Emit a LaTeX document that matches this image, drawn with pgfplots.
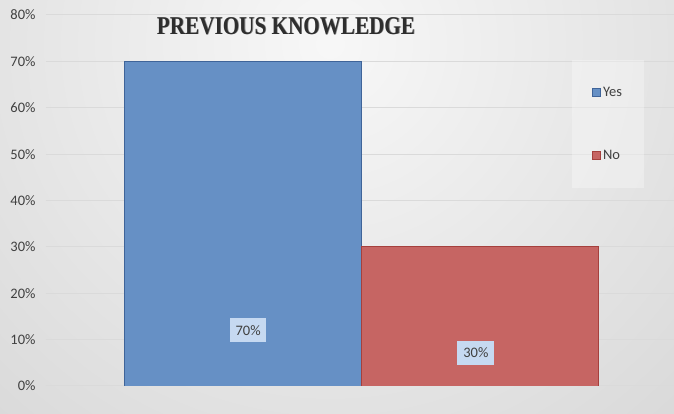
\documentclass[border=0pt]{standalone}
\usepackage{pgfplots}
\pgfplotsset{compat=1.18}
\usepackage{graphicx}
\usepackage{fontspec}
\setmainfont{Carlito}
\newfontfamily\titlefont[FakeStretch=0.83]{Liberation Serif}

\definecolor{barblue}{HTML}{6690C5}
\definecolor{barblueedge}{HTML}{3F6499}
\definecolor{barred}{HTML}{C66563}
\definecolor{barrededge}{HTML}{A5403D}
\definecolor{labelfill}{HTML}{C6D9F1}
\definecolor{txt}{HTML}{404040}
\definecolor{gridc}{HTML}{DADADA}

\begin{document}
\begin{tikzpicture}
  % chart background: soft radial gray
  \begin{scope}
    \clip (0pt,0pt) rectangle (674pt,414pt);
    \shade[inner color=white!97!black, outer color=black!27]
      (-710pt,-670pt) rectangle (1370pt,1410pt);
  \end{scope}
  \node[text=black!45, font=\titlefont\bfseries\fontsize{25.5}{28}\selectfont]
    at (286.8pt,387.3pt) {PREVIOUS KNOWLEDGE};
  \node[text=black!82, font=\titlefont\bfseries\fontsize{25.5}{28}\selectfont]
    at (286pt,388pt) {PREVIOUS KNOWLEDGE};

  \begin{axis}[
      at={(46pt,28pt)}, anchor=south west,
      scale only axis,
      width=628pt, height=371pt,
      xmin=-0.829, xmax=1.821,
      ymin=0, ymax=80,
      ytick={0,10,...,80},
      yticklabel={\pgfmathprintnumber{\tick}\%},
      yticklabel style={font=\fontsize{14.5}{16}\selectfont, text=txt, xshift=-7pt},
      /pgf/number format/assume math mode=true,
      xtick=\empty,
      axis line style={draw=none},
      major tick length=0pt,
      ymajorgrids,
      major grid style={draw=gridc, line width=1pt},
      legend style={
        at={(rel axis cs:0.8376,0.879)}, anchor=north west,
        draw=none, fill=white, fill opacity=0.3, text opacity=1,
        font=\fontsize{14.5}{16}\selectfont, text=txt,
        inner xsep=20pt, inner ysep=25pt,
        row sep=48pt,
        cells={anchor=west},
      },
      legend image code/.code={
        \draw[#1, fill opacity=1, draw opacity=1] (0pt,-4pt) rectangle (8pt,4pt);
      },
    ]
    \addplot[ybar, bar width=1, bar shift=0pt, fill=barblue, draw=barblueedge, line width=0.8pt]
      coordinates {(0,70)};
    \addlegendentry{Yes}
    \addplot[ybar, bar width=1, bar shift=0pt, fill=barred, draw=barrededge, line width=0.8pt]
      coordinates {(1,30)};
    \addlegendentry{No}

    \node[fill=labelfill, text=txt, font=\fontsize{14.5}{16}\selectfont,
          minimum width=36pt, minimum height=24pt, inner sep=0pt]
      at (axis cs:0.024,12) {70\%};
    \node[fill=labelfill, text=txt, font=\fontsize{14.5}{16}\selectfont,
          minimum width=37pt, minimum height=24pt, inner sep=0pt]
      at (axis cs:0.985,7.1) {30\%};
  \end{axis}
  \pgfresetboundingbox
  \useasboundingbox (0pt,0pt) rectangle (674pt,414pt);
\end{tikzpicture}
\end{document}
